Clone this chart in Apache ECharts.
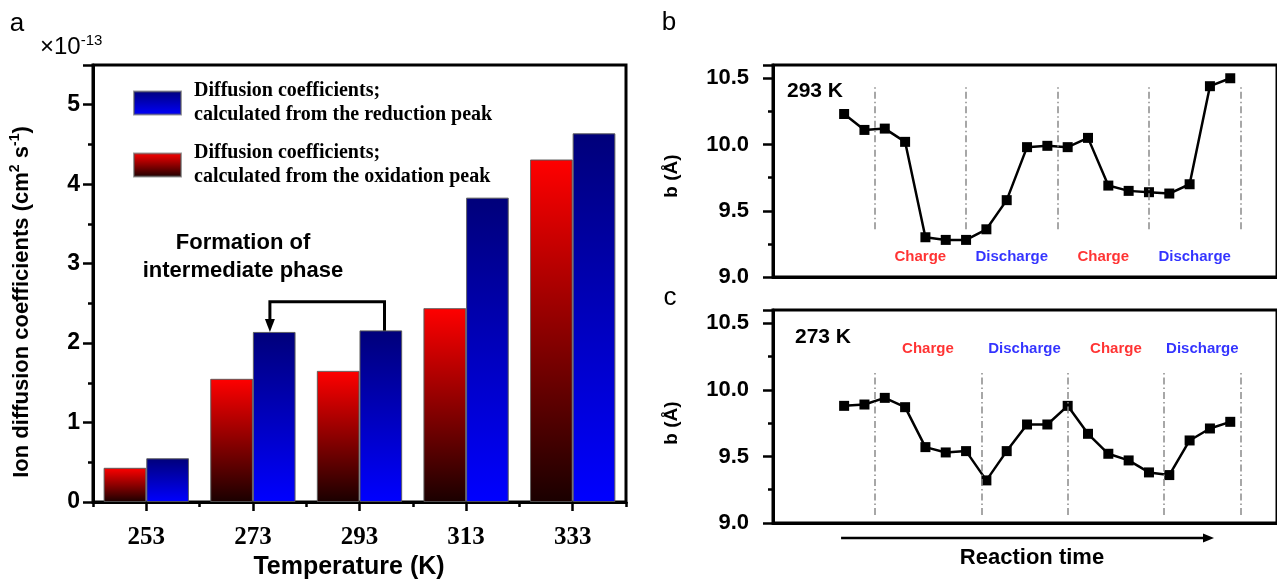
<!DOCTYPE html>
<html>
<head>
<meta charset="utf-8">
<title>Ion diffusion coefficients and b parameter</title>
<script src="https://cdn.jsdelivr.net/npm/echarts@6/dist/echarts.min.js"></script>
<style>
html, body { margin: 0; padding: 0; background: #fff; }
#chart { width: 1277px; height: 581px; }
</style>
</head>
<body>
<div id="chart"></div>
<script>
// panel a
var temperatures = ['253', '273', '293', '313', '333'];
var oxidationPeak = [0.43, 1.55, 1.65, 2.44, 4.31];
var reductionPeak = [0.55, 2.14, 2.16, 3.83, 4.64];

// panels b and c, one value per measurement step
var b293 = [10.23, 10.11, 10.12, 10.02, 9.30, 9.28, 9.28, 9.36, 9.58, 9.98,
            9.99, 9.98, 10.05, 9.69, 9.65, 9.64, 9.63, 9.70, 10.44, 10.50];
var b273 = [9.88, 9.89, 9.94, 9.87, 9.57, 9.53, 9.54, 9.32, 9.54, 9.74,
            9.74, 9.88, 9.67, 9.52, 9.47, 9.38, 9.36, 9.62, 9.71, 9.76];
var steps293 = [1.5, 6, 10.5, 15, 19.5];
var steps273 = [1.5, 6.75, 11, 15.75, 19.5];
var phaseNames = ['Charge', 'Discharge', 'Charge', 'Discharge'];
var yTicks = ['9.0', '9.5', '10.0', '10.5'];

var sans = 'Liberation Sans';
var serif = 'Liberation Serif';
var nameRed = 'Diffusion coefficients;\ncalculated from the oxidation peak';
var nameBlue = 'Diffusion coefficients;\ncalculated from the reduction peak';

function toPoints(values) {
    return values.map(function (v, i) { return [i, v]; });
}
function dividerLines(xs, lo, hi) {
    return xs.map(function (x) { return [{ coord: [x, lo] }, { coord: [x, hi] }]; });
}
function phaseLabels(xs, y) {
    var out = [];
    for (var i = 0; i < phaseNames.length; i++) {
        out.push({
            name: phaseNames[i],
            value: [(xs[i] + xs[i + 1]) / 2, y],
            label: { color: phaseNames[i] === 'Charge' ? '#ff0000' : '#0000ff' }
        });
    }
    return out;
}

var tickStyle = { color: '#000', width: 2.5 };
function rightY(grid) {
    return {
        gridIndex: grid, type: 'value', min: 9, max: 10.6, interval: 0.5,
        axisLine: { show: true, onZero: false, lineStyle: { color: '#000', width: 3 } },
        axisTick: { show: true, length: 10, lineStyle: tickStyle },
        minorTick: { show: true, splitNumber: 2, length: 5, lineStyle: tickStyle },
        splitLine: { show: false },
        axisLabel: {
            color: '#000', fontFamily: sans, fontWeight: 'bold', fontSize: 22, margin: 24,
            formatter: function (v) {
                var s = v.toFixed(1);
                return yTicks.indexOf(s) >= 0 ? s : '';
            }
        }
    };
}
function rightX(grid) {
    return {
        gridIndex: grid, type: 'value', min: -3.5, max: 21.3,
        axisLine: { show: true, onZero: false, lineStyle: { color: '#000', width: 3 } },
        axisTick: { show: false }, axisLabel: { show: false }, splitLine: { show: false }
    };
}
// grid g uses xAxis g + 1 and yAxis g
function bSeries(values, g, steps, lo, hi, labelY) {
    return [{
        type: 'line', xAxisIndex: g + 1, yAxisIndex: g,
        data: toPoints(values),
        symbol: 'rect', symbolSize: 10,
        itemStyle: { color: '#000' },
        lineStyle: { color: '#000', width: 2.5 },
        markLine: {
            silent: true, symbol: ['none', 'none'], label: { show: false },
            lineStyle: { color: '#8a8a8a', width: 1.5, type: [7, 3, 1.5, 3] },
            data: dividerLines(steps, lo, hi)
        }
    }, {
        type: 'scatter', xAxisIndex: g + 1, yAxisIndex: g,
        symbolSize: 1, itemStyle: { color: 'transparent' },
        label: { show: true, position: 'inside', formatter: '{b}', fontFamily: sans, fontWeight: 'bold', fontSize: 15 },
        data: phaseLabels(steps, labelY)
    }];
}

var option = {
    animation: false,
    backgroundColor: '#fff',
    grid: [
        { left: 93, top: 65, width: 533, height: 437, show: true, borderColor: '#000', borderWidth: 3, backgroundColor: 'transparent' },
        { left: 773, top: 65, width: 512, height: 212, show: true, borderColor: '#000', borderWidth: 3, backgroundColor: 'transparent' },
        { left: 773, top: 310, width: 512, height: 213, show: true, borderColor: '#000', borderWidth: 3, backgroundColor: 'transparent' }
    ],
    legend: {
        left: 133, top: 73, orient: 'vertical', itemGap: 2, padding: 0,
        itemWidth: 47, itemHeight: 23, selectedMode: false,
        icon: 'rect',
        data: [nameBlue, nameRed],
        textStyle: { fontFamily: serif, fontWeight: 'bold', fontSize: 20, lineHeight: 24, color: '#000', padding: [12, 0, 0, 8] }
    },
    xAxis: [{
        gridIndex: 0, type: 'category', data: temperatures, position: 'bottom',
        axisLine: { lineStyle: { color: '#000', width: 3 } },
        axisTick: { show: true, interval: 0, length: 5, lineStyle: tickStyle },
        axisLabel: { color: '#000', fontFamily: serif, fontWeight: 'bold', fontSize: 25, margin: 23 }
    }, {
        gridIndex: 0, type: 'category', data: temperatures, position: 'bottom',
        axisLine: { show: false },
        axisTick: { show: true, interval: 0, alignWithLabel: true, length: 9, lineStyle: tickStyle },
        axisLabel: { show: false }
    }, rightX(1), rightX(2)],
    yAxis: [{
        gridIndex: 0, type: 'value', min: 0, max: 5.5, interval: 1,
        axisLine: { show: true, onZero: false, lineStyle: { color: '#000', width: 3 } },
        axisTick: { show: true, length: 10, lineStyle: tickStyle },
        minorTick: { show: true, splitNumber: 2, length: 5, lineStyle: tickStyle },
        splitLine: { show: false },
        axisLabel: {
            color: '#000', fontFamily: sans, fontWeight: 'bold', fontSize: 23, margin: 13,
            formatter: function (v) { return v % 1 === 0 ? String(v) : ''; }
        }
    }, rightY(1), rightY(2)],
    series: [{
        name: nameRed, type: 'bar', xAxisIndex: 0, yAxisIndex: 0,
        data: oxidationPeak, barGap: '0%', barCategoryGap: '20%',
        itemStyle: {
            borderColor: 'rgba(90,90,90,0.6)', borderWidth: 1,
            color: new echarts.graphic.LinearGradient(0, 0, 0, 1, [
                { offset: 0, color: '#ff0000' }, { offset: 1, color: '#1a0000' }])
        }
    }, {
        name: nameBlue, type: 'bar', xAxisIndex: 0, yAxisIndex: 0,
        data: reductionPeak, barGap: '0%', barCategoryGap: '20%',
        itemStyle: {
            borderColor: 'rgba(90,90,90,0.6)', borderWidth: 1,
            color: new echarts.graphic.LinearGradient(0, 0, 0, 1, [
                { offset: 0, color: '#00007a' }, { offset: 1, color: '#0000ff' }])
        }
    }]
        .concat(bSeries(b293, 1, steps293, 9.36, 10.44, 9.15))
        .concat(bSeries(b273, 2, steps273, 9.06, 10.15, 10.31))
};

var chart = echarts.init(document.getElementById('chart'));
chart.setOption(option);

// annotations placed from the axes
var finderA = { xAxisIndex: 0, yAxisIndex: 0 };
var pTip = chart.convertToPixel(finderA, [1, reductionPeak[1]]);
var pTop = chart.convertToPixel(finderA, [1, 2.52]);
var pEnd = chart.convertToPixel(finderA, [2, reductionPeak[2] - 0.05]);
var x1 = pTip[0] + 17, x2 = pEnd[0] + 25;
var finderC = { xAxisIndex: 3, yAxisIndex: 2 };
var pStart = chart.convertToPixel(finderC, [-0.15, 9]);
var pStop = chart.convertToPixel(finderC, [18.2, 9]);
var ay = pStart[1] + 15;

function label(text, x, y, size, weight, extra) {
    var el = {
        type: 'text', x: x, y: y,
        style: { text: text, fill: '#000', fontFamily: sans, fontSize: size, fontWeight: weight || 'normal', align: 'center', verticalAlign: 'middle' }
    };
    if (extra) {
        for (var k in extra) {
            if (k === 'style') { for (var s in extra.style) { el.style[s] = extra.style[s]; } }
            else { el[k] = extra[k]; }
        }
    }
    return el;
}

chart.setOption({
    graphic: [
        label('a', 17, 24, 26),
        label('b', 669, 23, 26),
        label('c', 670, 298, 26),
        {
            type: 'text', x: 40, y: 47,
            style: {
                text: '{t|×10}{s|-13}', fill: '#000', align: 'left', verticalAlign: 'middle',
                rich: {
                    t: { fontFamily: sans, fontSize: 24, lineHeight: 28 },
                    s: { fontFamily: sans, fontSize: 15, lineHeight: 15, verticalAlign: 'top' }
                }
            }
        },
        {
            type: 'text', x: 22, y: 302, rotation: Math.PI / 2,
            style: {
                text: '{t|Ion diffusion coefficients (cm}{s|2}{t| s}{s|-1}{t|)}', fill: '#000', align: 'center', verticalAlign: 'middle',
                rich: {
                    t: { fontFamily: sans, fontSize: 22, fontWeight: 'bold', lineHeight: 27 },
                    s: { fontFamily: sans, fontSize: 14, fontWeight: 'bold', lineHeight: 15, verticalAlign: 'top' }
                }
            }
        },
        label('Temperature (K)', 349, 567, 25, 'bold'),
        label('Formation of\nintermediate phase', 243, 257, 22, 'bold', { style: { lineHeight: 28 } }),
        label('293 K', 815, 91, 21, 'bold'),
        label('273 K', 823, 337, 21, 'bold'),
        label('b (Å)', 672, 176, 19, 'bold', { rotation: Math.PI / 2 }),
        label('b (Å)', 672, 423, 19, 'bold', { rotation: Math.PI / 2 }),
        label('Reaction time', 1032, 558, 22, 'bold'),
        {
            type: 'polyline',
            shape: { points: [[x1, pTip[1] - 10], [x1, pTop[1]], [x2, pTop[1]], [x2, pEnd[1]]] },
            style: { stroke: '#000', lineWidth: 3, fill: null }
        },
        {
            type: 'polygon',
            shape: { points: [[x1 - 5, pTip[1] - 13], [x1 + 5, pTip[1] - 13], [x1, pTip[1]]] },
            style: { fill: '#000' }
        },
        {
            type: 'line',
            shape: { x1: pStart[0], y1: ay, x2: pStop[0] - 8, y2: ay },
            style: { stroke: '#000', lineWidth: 2.5 }
        },
        {
            type: 'polygon',
            shape: { points: [[pStop[0] - 11, ay - 4.5], [pStop[0], ay], [pStop[0] - 11, ay + 4.5]] },
            style: { fill: '#000' }
        }
    ]
});
</script>
</body>
</html>
